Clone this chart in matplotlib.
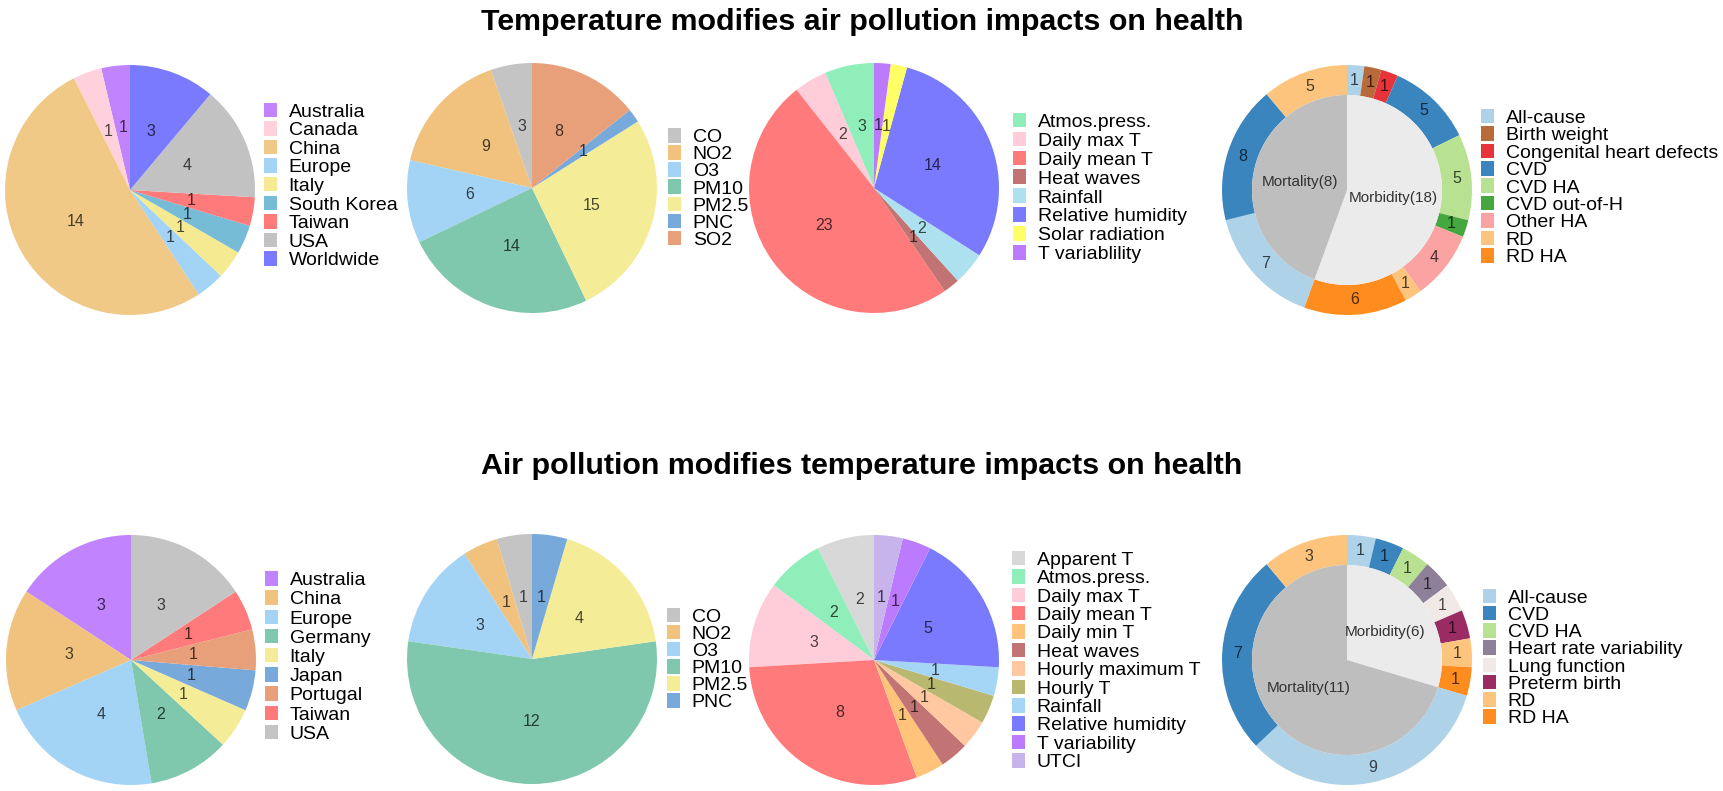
import matplotlib
matplotlib.use('Agg')
import matplotlib.pyplot as plt
from matplotlib.patches import Patch
import matplotlib.colors as mcolors

plt.rcParams['font.family'] = ['Liberation Sans', 'DejaVu Sans']

W, H, DPI = 1724, 791, 100

# ---------------- data ----------------
title_top = "Temperature modifies air pollution impacts on health"
title_bottom = "Air pollution modifies temperature impacts on health"

# Top row
t_region_labels = ['Australia', 'Canada', 'China', 'Europe', 'Italy', 'South Korea', 'Taiwan', 'USA', 'Worldwide']
t_region_values = [1, 1, 14, 1, 1, 1, 1, 4, 3]
t_region_colors = ['#C283FF', '#FFD1DC', '#F0C987', '#A3D4F5', '#F5EA91', '#77BCD6', '#FF7A7A', '#C2C2C2', '#7A7AFF']

t_poll_labels = ['CO', 'NO2', 'O3', 'PM10', 'PM2.5', 'PNC', 'SO2']
t_poll_values = [3, 9, 6, 14, 15, 1, 8]
t_poll_colors = ['#C4C4C4', '#F0C27E', '#A3D4F5', '#7FC7AD', '#F5EC98', '#78A9DB', '#E8A07B']

t_met_labels = ['Atmos.press.', 'Daily max T', 'Daily mean T', 'Heat waves', 'Rainfall',
                'Relative humidity', 'Solar radiation', 'T variablility']
t_met_values = [3, 2, 23, 1, 2, 14, 1, 1]
t_met_colors = ['#90EEBB', '#FFCDD9', '#FF7A7A', '#C27373', '#AEE1EF', '#7A7AFF', '#FFFF66', '#BC7AFF']

t_out_labels = ['All-cause', 'Birth weight', 'Congenital heart defects', 'CVD', 'CVD HA', 'CVD out-of-H',
                'Other HA', 'RD', 'RD HA']
t_out_colors = ['#AED2E8', '#B86A3A', '#E6343A', '#3A85BE', '#B8E191', '#44A83E', '#FBA3A2', '#FDC47E', '#FF8C1E']
# outer ring (clockwise from top): Morbidity outcomes, then Mortality outcomes
t_ring_outcomes = ['All-cause', 'Birth weight', 'Congenital heart defects', 'CVD', 'CVD HA', 'CVD out-of-H',
                   'Other HA', 'RD', 'RD HA', 'All-cause', 'CVD', 'RD']
t_ring_values = [1, 1, 1, 5, 5, 1, 4, 1, 6, 7, 8, 5]
t_ring_group = ['Morbidity'] * 9 + ['Mortality'] * 3
t_inner_groups = ['Morbidity', 'Mortality']
t_inner_labels = ['Morbidity(18)', 'Mortality(8)']

# Bottom row
b_region_labels = ['Australia', 'China', 'Europe', 'Germany', 'Italy', 'Japan', 'Portugal', 'Taiwan', 'USA']
b_region_values = [3, 3, 4, 2, 1, 1, 1, 1, 3]
b_region_colors = ['#C283FF', '#F0C27E', '#A3D4F5', '#7FC7AD', '#F5EC98', '#78A9DB', '#E8A07B', '#FF7A7A', '#C4C4C4']

b_poll_labels = ['CO', 'NO2', 'O3', 'PM10', 'PM2.5', 'PNC']
b_poll_values = [1, 1, 3, 12, 4, 1]
b_poll_colors = ['#C4C4C4', '#F0C27E', '#A3D4F5', '#7FC7AD', '#F5EC98', '#78A9DB']

b_met_labels = ['Apparent T', 'Atmos.press.', 'Daily max T', 'Daily mean T', 'Daily min T', 'Heat waves',
                'Hourly maximum T', 'Hourly T', 'Rainfall', 'Relative humidity', 'T variability', 'UTCI']
b_met_values = [2, 2, 3, 8, 1, 1, 1, 1, 1, 5, 1, 1]
b_met_colors = ['#D8D8D8', '#90EEBB', '#FFCDD9', '#FF7A7A', '#FFC37A', '#C27373', '#FFC8A0', '#B9B870',
                '#A6D6F5', '#7A7AFF', '#BC7AFF', '#C8B4EC']

b_out_labels = ['All-cause', 'CVD', 'CVD HA', 'Heart rate variability', 'Lung function', 'Preterm birth', 'RD', 'RD HA']
b_out_colors = ['#AED2E8', '#3A85BE', '#B8E191', '#8E8098', '#F0E9E6', '#9B2C63', '#FDC47E', '#FF8C1E']
b_ring_outcomes = ['All-cause', 'CVD', 'CVD HA', 'Heart rate variability', 'Lung function', 'Preterm birth',
                   'RD', 'RD HA', 'All-cause', 'CVD', 'RD']
b_ring_values = [1, 1, 1, 1, 1, 1, 1, 1, 9, 7, 3]
b_ring_group = ['Morbidity'] * 8 + ['Mortality'] * 3
b_inner_groups = ['Morbidity', 'Mortality']
b_inner_labels = ['Morbidity(6)', 'Mortality(11)']

inner_colors = {'Morbidity': '#EBEBEB', 'Mortality': '#BEBEBE'}

# ---------------- layout/style ----------------
R = 125
LEG_FS = 14.0
NUM_FS = 11.5
IN_FS = 11


def dark(c, f=0.3):
    r, g, b = mcolors.to_rgb(c)
    return (r * f, g * f, b * f)


fig = plt.figure(figsize=(W / DPI, H / DPI), dpi=DPI)


def make_ax(cx, cy):
    return fig.add_axes([(cx - R) / W, 1 - (cy + R) / H, 2 * R / W, 2 * R / H])


def add_legend(ax, labels, colors, lx, ly, spacing=0.0):
    handles = [Patch(facecolor=c, edgecolor='none') for c in colors]
    ax.legend(handles, labels, loc='center left', bbox_to_anchor=(lx / W, 1 - ly / H),
              bbox_transform=fig.transFigure, frameon=False, borderpad=0, borderaxespad=0,
              handlelength=0.67, handleheight=0.77, handletextpad=0.6, labelspacing=spacing,
              prop={'family': 'Liberation Sans', 'size': LEG_FS})


def simple_pie(cx, cy, labels, values, colors, lx, ly, spacing=0.0):
    ax = make_ax(cx, cy)
    wedges, texts = ax.pie(values, colors=colors, startangle=90, counterclock=True,
                           labels=[str(v) for v in values], labeldistance=0.5,
                           textprops={'fontsize': NUM_FS})
    for t, c in zip(texts, colors):
        t.set_color(dark(c))
        t.set_ha('center')
        t.set_va('center')
    ax.set_xlim(-1, 1)
    ax.set_ylim(-1, 1)
    ax.set_aspect('equal')
    ax.axis('off')
    add_legend(ax, labels, colors, lx, ly, spacing)


def donut(cx, cy, leg_labels, leg_colors, outcomes, values, groups, inner_groups, inner_labels,
          lx, ly, spacing=0.0):
    ax = make_ax(cx, cy)
    cmap = dict(zip(leg_labels, leg_colors))
    ocols = [cmap[o] for o in outcomes]
    wedges, texts = ax.pie(values, colors=ocols, radius=1, startangle=90, counterclock=False,
                           wedgeprops=dict(width=0.24, edgecolor='none'),
                           labels=[str(v) for v in values], labeldistance=0.88,
                           textprops={'fontsize': NUM_FS})
    for t, c in zip(texts, ocols):
        t.set_color(dark(c))
        t.set_ha('center')
        t.set_va('center')
    inner_vals = [sum(v for v, g in zip(values, groups) if g == ig) for ig in inner_groups]
    icols = [inner_colors[g] for g in inner_groups]
    w2, t2 = ax.pie(inner_vals, colors=icols, radius=0.76, startangle=90, counterclock=False,
                    wedgeprops=dict(edgecolor='none'),
                    labels=inner_labels, labeldistance=0.5,
                    textprops={'fontsize': IN_FS, 'color': '#333333'})
    for t in t2:
        t.set_ha('center')
        t.set_va('center')
    ax.set_xlim(-1, 1)
    ax.set_ylim(-1, 1)
    ax.set_aspect('equal')
    ax.axis('off')
    add_legend(ax, leg_labels, leg_colors, lx, ly, spacing)


# top row
simple_pie(130, 190, t_region_labels, t_region_values, t_region_colors, 264, 186, 0.03)
simple_pie(532, 188, t_poll_labels, t_poll_values, t_poll_colors, 668, 188.5, -0.05)
simple_pie(874, 188, t_met_labels, t_met_values, t_met_colors, 1013, 188, 0.05)
donut(1347, 190, t_out_labels, t_out_colors, t_ring_outcomes, t_ring_values, t_ring_group,
      t_inner_groups, t_inner_labels, 1481, 187.5, -0.03)

# bottom row
simple_pie(131, 660, b_region_labels, b_region_values, b_region_colors, 265, 657, 0.06)
simple_pie(532, 659, b_poll_labels, b_poll_values, b_poll_colors, 667, 659.5, -0.05)
simple_pie(874, 660, b_met_labels, b_met_values, b_met_colors, 1012, 661, 0.02)
donut(1347, 660, b_out_labels, b_out_colors, b_ring_outcomes, b_ring_values, b_ring_group,
      b_inner_groups, b_inner_labels, 1483, 658, -0.04)

fig.text(0.5, 1 - 29.5 / H, title_top, ha='center', va='baseline', fontsize=21.9, fontweight='bold',
         family='Liberation Sans')
fig.text(0.5, 1 - 473.5 / H, title_bottom, ha='center', va='baseline', fontsize=21.9, fontweight='bold',
         family='Liberation Sans')

fig.savefig('out.png', dpi=DPI)
